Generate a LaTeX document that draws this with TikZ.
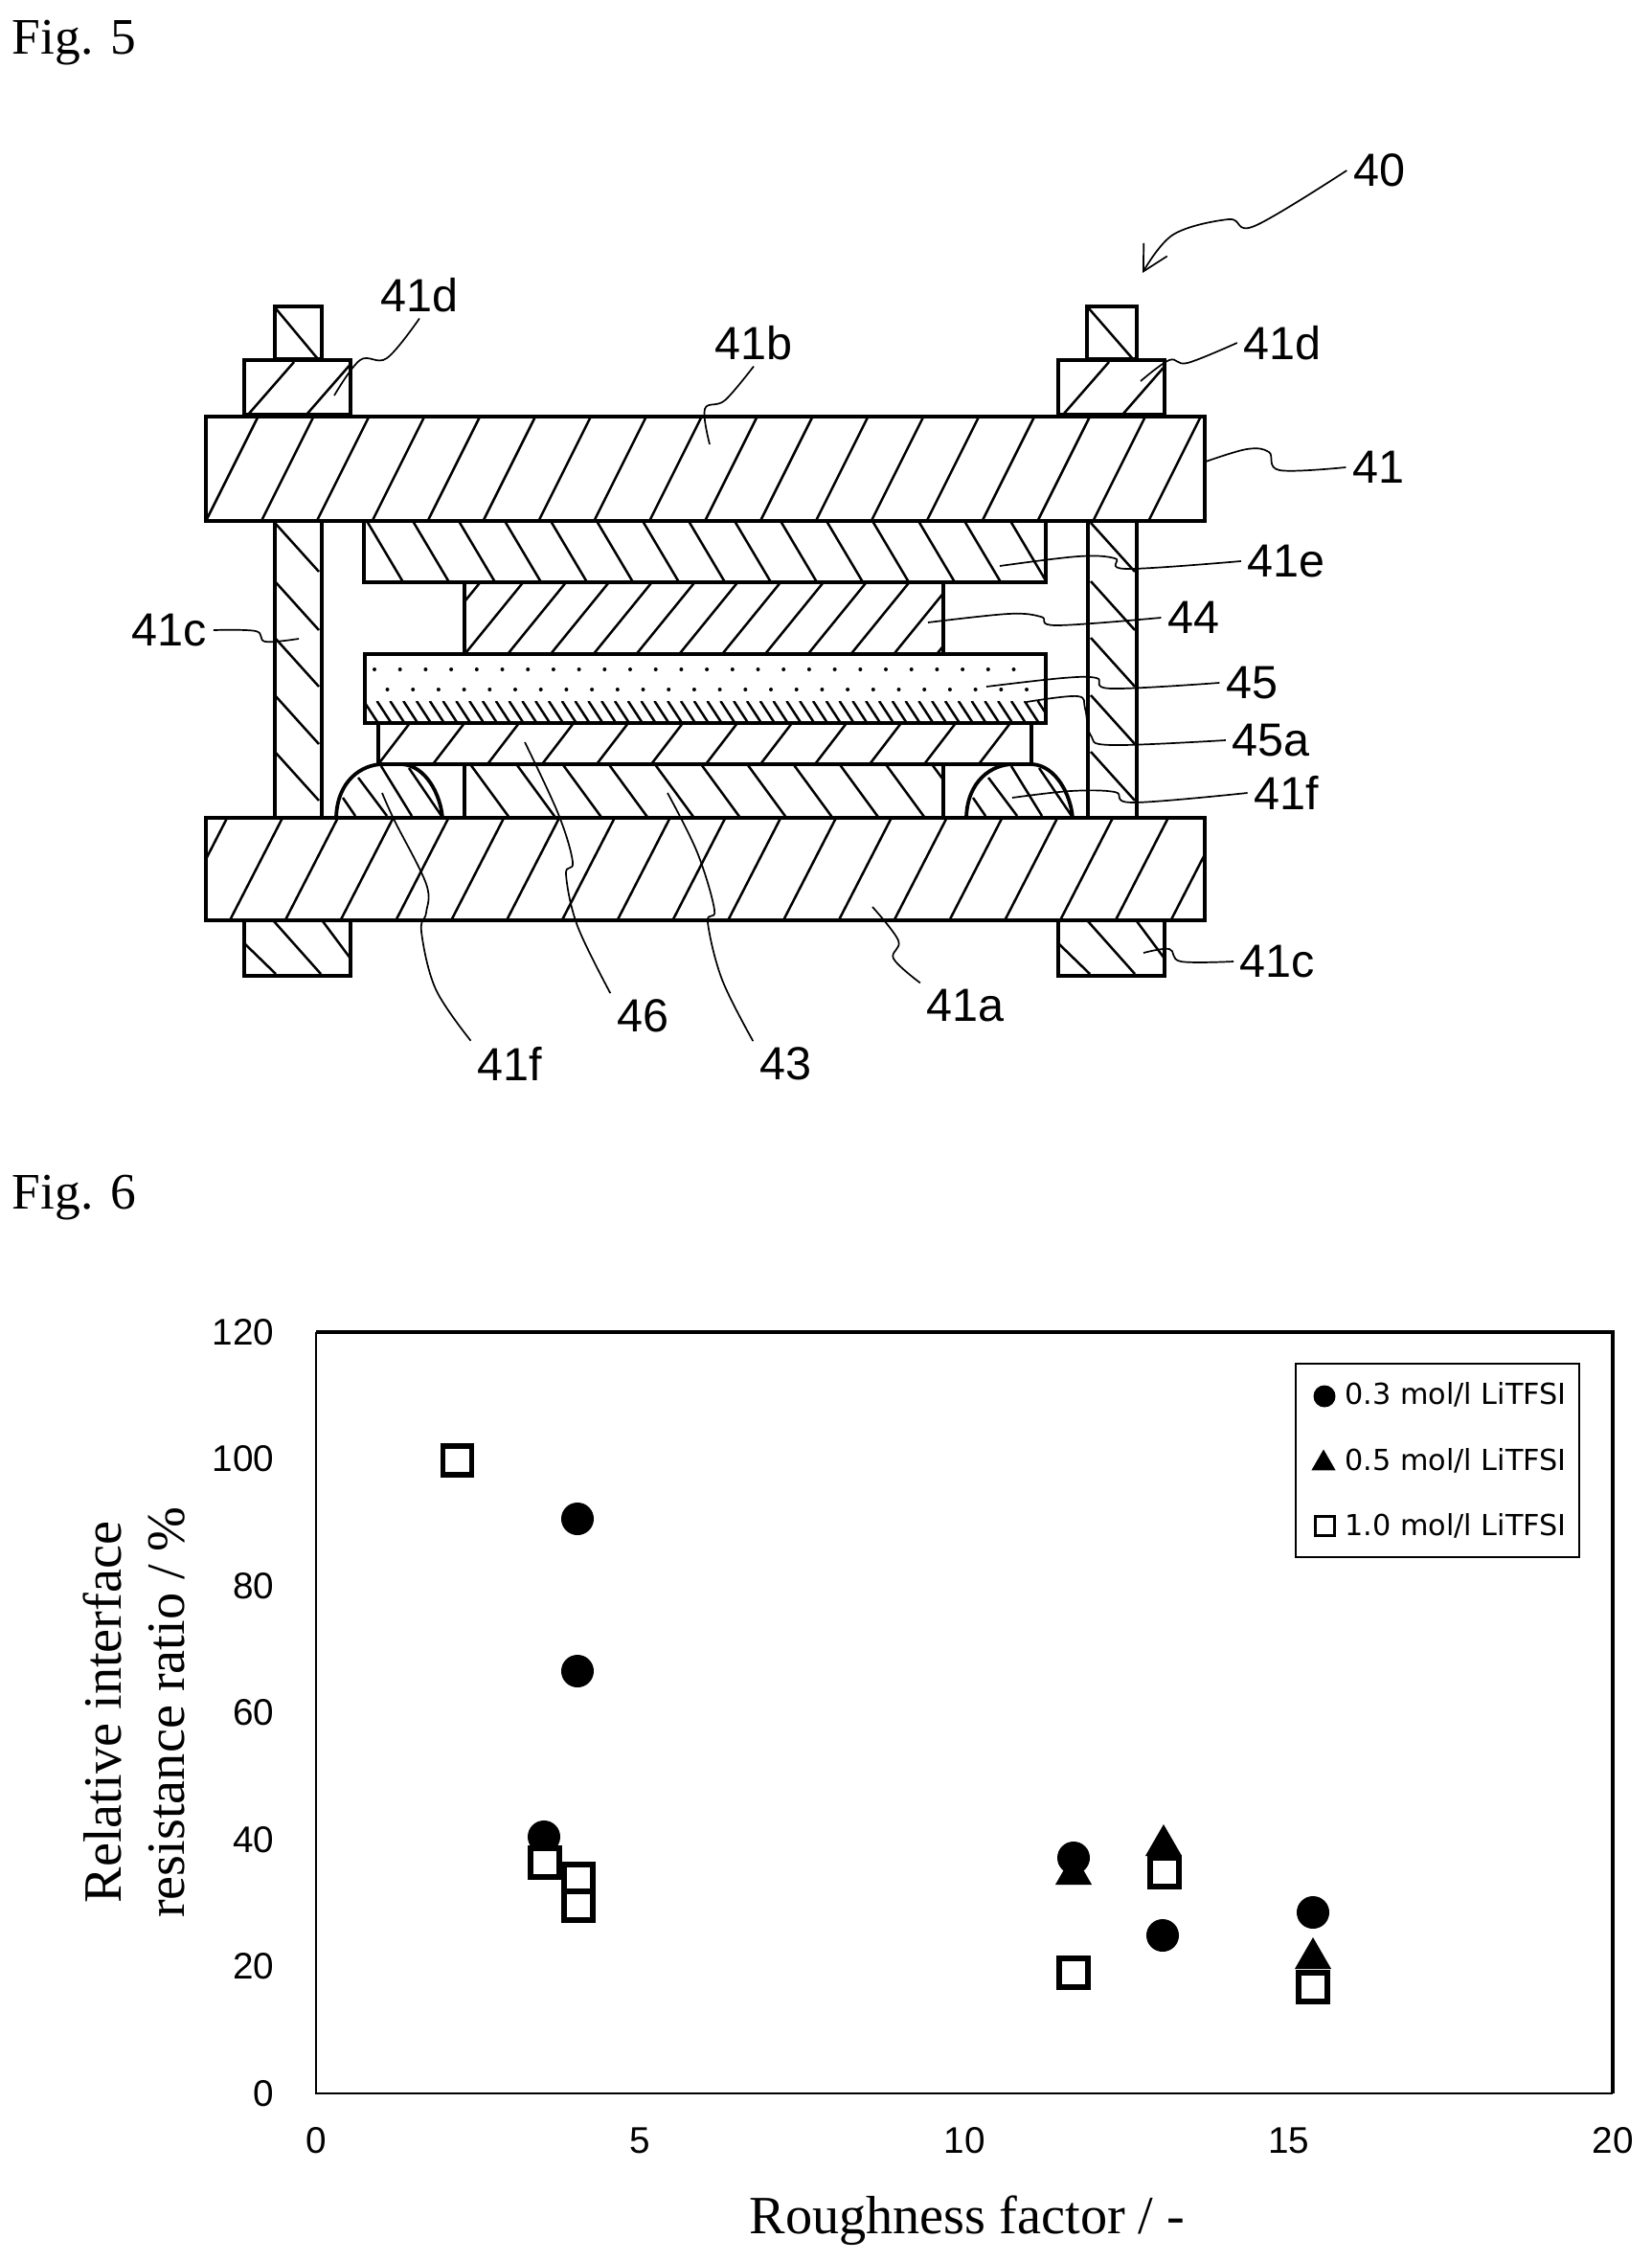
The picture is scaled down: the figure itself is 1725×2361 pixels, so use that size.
\documentclass[tikz,border=0pt]{standalone}
\usepackage{fontspec}
\setmainfont{Liberation Sans}
\newfontfamily\titleface{Liberation Serif}
\newfontfamily\legendface{DejaVu Sans}
\usetikzlibrary{arrows.meta,shapes.geometric}

\tikzset{
	part/.style={draw=black,line width=.45mm},
	hatchline/.style={draw=black,line width=.25mm},
	leader/.style={draw=black,line width=.17mm},
	partlabel/.style={inner sep=.6mm,font=\fontsize{13.8}{16}\selectfont},
	figlabel/.style={inner sep=0pt,anchor=west,font=\titleface\fontsize{15.2}{18}\selectfont},
	axistitle/.style={inner sep=0pt,align=center,font=\titleface\fontsize{16}{19}\selectfont},
	ticklabel/.style={inner sep=0pt,font=\fontsize{11}{13}\selectfont},
	legendtext/.style={inner sep=0pt,anchor=west,font=\legendface\fontsize{8.6}{11}\selectfont},
	ptcirc/.style={circle,fill=black,inner sep=0pt,minimum size=3.4mm},
	pttri/.style={regular polygon,regular polygon sides=3,fill=black,inner sep=0pt,minimum size=4.4mm},
	ptsquare/.style={rectangle,draw=black,fill=white,line width=.55mm,inner sep=0pt,minimum size=3mm},
}

% rectangle x0,y0,x1,y1 with lines from the bottom edge: list of x, then dx,dy
\newcommand{\hatchbox}[7]{
	\begin{scope}
		\clip (#1,#2) rectangle (#3,#4);
		\foreach \hx in {#5}
			\draw[hatchline] (\hx,#4) -- ++(#6,-#7);
	\end{scope}
	\draw[part] (#1,#2) rectangle (#3,#4);
}

% the rounded seal at its shift
\newcommand{\sealbump}[1]{
	\begin{scope}[xshift=#1*0.01cm]
		\foreach \sa/\sb/\sc/\sd in {358/833/371/852,374/812/404/852,398/800/430/852,427/802/461/852}
			\draw[hatchline] (\sa,\sb) -- (\sc,\sd);
		\draw[line width=.38mm] (351,854) .. controls (352,815) and (378,798) .. (400,798) -- (420,798) .. controls (445,800) and (460,830) .. (462,854);
	\end{scope}
}

\begin{document}
\begin{tikzpicture}[x=0.01cm,y=-0.01cm]
	\useasboundingbox (0,0) rectangle (1725,2361);

	\node[figlabel] (figfive) at (12,45) {Fig. 5};
	\node[figlabel] (figsix) at (12,1251) {Fig. 6};

	% cell
	\hatchbox{287}{320}{336}{375}{332}{-45}{54}
	\hatchbox{1135}{320}{1187}{375}{1183}{-47}{54}
	\hatchbox{255}{376}{366}{433}{259,320}{48}{55}
	\hatchbox{1105}{376}{1216}{433}{1110,1172}{48}{55}

	\foreach \hy in {546,607,666,726,785}{
		\draw[hatchline] (287,\hy) -- ++(46,51);
		\draw[hatchline] (1139,\hy) -- ++(46,51);
	}
	\draw[part] (287,544) rectangle (336,854);
	\draw[part] (1136,544) rectangle (1187,854);

	\hatchbox{215}{435}{1258}{544}{215,272.9,...,1250}{55}{110}
	\hatchbox{380}{544}{1092}{608}{421,469,...,1100}{-38}{64}
	\hatchbox{485}{608}{985}{683}{440.5,485.3,...,1000}{61}{75}

	% separator with its coated lower part
	\begin{scope}
		\clip (381,732) rectangle (1092,755);
		\foreach \hx in {381,394.8,...,1110}
			\draw[black,line width=.25mm] (\hx,755) -- ++(-15,-23);
	\end{scope}
	\foreach \hx in {391,417.7,...,1085}
		\fill (\hx,699) circle (2);
	\foreach \hx in {404.5,431.2,...,1072}
		\fill (\hx,720) circle (2);
	\draw[part] (381,683) rectangle (1092,755);

	\hatchbox{395}{755}{1077}{798}{395,452,...,1080}{33}{43}
	\hatchbox{485}{798}{985}{854}{532,580.2,...,1040}{-41}{56}
	\sealbump{0}
	\sealbump{658}

	\hatchbox{215}{854}{1258}{961}{182.2,240,...,1230}{55}{107}

	\foreach \nx in {0,850}{
		\begin{scope}[xshift=\nx*0.01cm]
			\foreach \sa/\sb/\sc/\sd in {255/985/288/1017,286/962/335/1017,337/962/366/1001}
				\draw[hatchline] (\sa,\sb) -- (\sc,\sd);
			\draw[part] (255,961) rectangle (366,1019);
		\end{scope}
	}

	% part labels
	\node[partlabel] (num40) at (1440,178) {40};
	\node[partlabel] (num41dleft) at (438,308) {41d};
	\node[partlabel] (num41dright) at (1339,358) {41d};
	\node[partlabel] (num41b) at (787,358) {41b};
	\node[partlabel] (num41) at (1439,488) {41};
	\node[partlabel] (num41e) at (1343,586) {41e};
	\node[partlabel] (num44) at (1246,645) {44};
	\node[partlabel] (num41cleft) at (177,658) {41c};
	\node[partlabel] (num45) at (1307,713) {45};
	\node[partlabel] (num45a) at (1327,773) {45a};
	\node[partlabel] (num41fright) at (1343,828) {41f};
	\node[partlabel] (num41cright) at (1334,1004) {41c};
	\node[partlabel] (num41a) at (1008,1050) {41a};
	\node[partlabel] (num46) at (671,1061) {46};
	\node[partlabel] (num41fleft) at (532,1111) {41f};
	\node[partlabel] (num43) at (820,1111) {43};

	\coordinate (end40) at (1193,285);
	\coordinate (end41dleft) at (349,413);
	\coordinate (end41dright) at (1191,398);
	\coordinate (end41b) at (741,464);
	\coordinate (end41) at (1259,482);
	\coordinate (end41e) at (1044,591);
	\coordinate (end44) at (969,650);
	\coordinate (end41cleft) at (312,667);
	\coordinate (end45) at (1030,717);
	\coordinate (end45a) at (1072,733);
	\coordinate (end41fright) at (1057,833);
	\coordinate (end41cright) at (1194,995);
	\coordinate (end41a) at (911,947);
	\coordinate (end46) at (548,775);
	\coordinate (end41fleft) at (399,828);
	\coordinate (end43) at (697,828);

	\draw[leader,-{Straight Barb[length=2.6mm,width=2.8mm]}] plot[smooth,tension=.6] coordinates {(num40.west) (1310,236) (1283,229) (1225,245) (end40)};
	\draw[leader] plot[smooth,tension=.6] coordinates {(num41dleft.south) (404,374) (376,376) (end41dleft)};
	\draw[leader] plot[smooth,tension=.6] coordinates {(num41dright.west) (1240,379) (1221,376) (end41dright)};
	\draw[leader] plot[smooth,tension=.6] coordinates {(num41b.south) (757,418) (736,427) (end41b)};
	\draw[leader] plot[smooth,tension=.6] coordinates {(num41.west) (1336,491) (1325,472) (1302,469) (end41)};
	\draw[leader] plot[smooth,tension=.6] coordinates {(num41e.west) (1176,594) (1164,583) (1126,581) (end41e)};
	\draw[leader] plot[smooth,tension=.6] coordinates {(num44.west) (1103,653) (1087,644) (1053,641) (end44)};
	\draw[leader] plot[smooth,tension=.6] coordinates {(num41cleft.east) (267,659) (277,670) (end41cleft)};
	\draw[leader] plot[smooth,tension=.6] coordinates {(num45.west) (1160,719) (1145,708) (1110,708) (end45)};
	\draw[leader] plot[smooth,tension=.6] coordinates {(num45a.west) (1160,778) (1139,768) (1133,740) (1125,727) (end45a)};
	\draw[leader] plot[smooth,tension=.6] coordinates {(num41fright.west) (1183,838) (1164,827) (1118,826) (end41fright)};
	\draw[leader] plot[smooth,tension=.6] coordinates {(num41cright.west) (1233,1004) (1221,991) (end41cright)};
	\draw[leader] plot[smooth,tension=.6] coordinates {(num41a.north west) (933,1001) (938,982) (end41a)};
	\draw[leader] plot[smooth,tension=.6] coordinates {(num46.north west) (603,967) (591,913) (598,900) (583,850) (end46)};
	\draw[leader] plot[smooth,tension=.6] coordinates {(num41fleft.north west) (455,1033) (440,973) (445,953) (445,923) (412,857) (end41fleft)};
	\draw[leader] plot[smooth,tension=.6] coordinates {(num43.north west) (754,1023) (739,963) (746,950) (728,890) (end43)};

	% chart frame
	\coordinate (frameNW) at (330,1391);
	\coordinate (frameNE) at (1684,1391);
	\coordinate (frameSE) at (1684,2186);
	\coordinate (frameSW) at (330,2186);
	\draw[black,line width=.2mm] (frameNW) -- (frameSW) -- (frameSE);
	\draw[black,line width=.36mm] (frameNW) -- (frameNE) -- (frameSE);

	\foreach \v in {0,20,...,120}
		\node[ticklabel,anchor=east] (ytick\v) at (287,{2186-\v*6.625}) {\v};
	\foreach \v in {0,5,...,20}
		\node[ticklabel] (xtick\v) at ({330+\v*67.7},2235) {\v};

	\node[axistitle,rotate=90] (ytitle) at (140,1788) {Relative interface\\resistance ratio / \%};
	\node[axistitle] (xtitle) at (1010,2319) {Roughness factor / -};

	% data
	\node[ptcirc] (circA) at (603,1586) {};
	\node[ptcirc] (circB) at (603,1745) {};
	\node[ptcirc] (circC) at (568,1918) {};
	\node[pttri] (triA) at (1121,1957) {};
	\node[ptcirc] (circD) at (1121,1940) {};
	\node[ptcirc] (circE) at (1214,2021) {};
	\node[ptcirc] (circF) at (1371,1997) {};
	\node[pttri] (triB) at (1215,1927) {};
	\node[pttri] (triC) at (1371,2045) {};

	\node[ptsquare] (sqA) at (477.5,1525) {};
	\node[ptsquare] (sqB) at (569,1945) {};
	\node[ptsquare] (sqC) at (604,1962) {};
	\node[ptsquare] (sqD) at (604,1990) {};
	\node[ptsquare] (sqE) at (1121,2060) {};
	\node[ptsquare] (sqF) at (1216,1955) {};
	\node[ptsquare] (sqG) at (1371,2075) {};

	% legend
	\draw[black,line width=.2mm] (1353,1424) rectangle (1649,1626);
	\node[ptcirc,minimum size=2.3mm] (legcirc) at (1383,1458) {};
	\node[pttri,minimum size=2.9mm] (legtri) at (1382,1528) {};
	\node[ptsquare,minimum size=2mm,line width=.3mm] (legsquare) at (1383,1593) {};
	\node[legendtext] (legA) at (1404,1456) {0.3 mol/l LiTFSI};
	\node[legendtext] (legB) at (1404,1525) {0.5 mol/l LiTFSI};
	\node[legendtext] (legC) at (1404,1593) {1.0 mol/l LiTFSI};
\end{tikzpicture}
\end{document}
